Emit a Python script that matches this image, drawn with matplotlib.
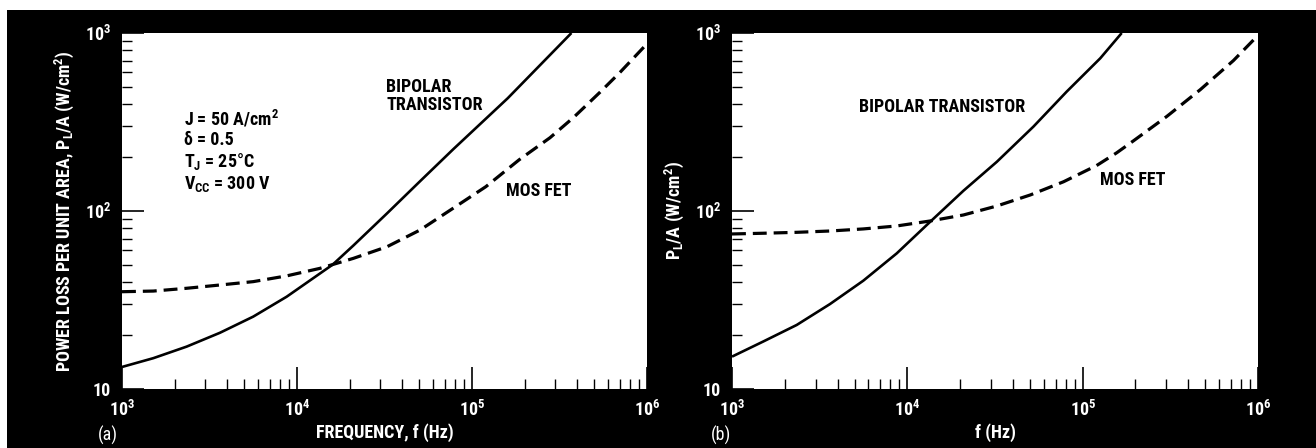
import matplotlib
matplotlib.use("Agg")
import matplotlib.pyplot as plt
from matplotlib import font_manager
from matplotlib.patches import Rectangle
from matplotlib.ticker import LogLocator, FixedLocator, FuncFormatter, NullFormatter

available = {f.name for f in font_manager.fontManager.ttflist}
main_font = 'DejaVu Sans'
for cand in ['Liberation Sans Narrow', 'Roboto Condensed', 'Open Sans Condensed', 'Arial Narrow']:
    if cand in available:
        main_font = cand
        break
plt.rcParams['font.family'] = [main_font, 'DejaVu Sans']
if main_font == 'DejaVu Sans':
    plt.rcParams['font.stretch'] = 'condensed'
plt.rcParams['font.weight'] = 'bold'
plt.rcParams['axes.labelweight'] = 'bold'
plt.rcParams['mathtext.fontset'] = 'custom'
plt.rcParams['mathtext.rm'] = main_font + ':bold'
plt.rcParams['mathtext.it'] = main_font + ':bold'
plt.rcParams['mathtext.default'] = 'regular'
plt.rcParams['lines.scale_dashes'] = False

# ---- data ----
freq_a_bipolar = [1e3, 1.51e3, 2.34e3, 3.63e3, 5.62e3, 8.73e3, 1.35e4, 1.6e4, 2.1e4, 3.27e4,
                  5.05e4, 7.8e4, 1.6e5, 3.7e5]
loss_a_bipolar = [13.3, 14.9, 17.3, 20.7, 25.5, 33, 44.5, 50, 64, 97,
                  147, 222, 430, 1000]

freq_a_mosfet = [1e3, 1.51e3, 2.34e3, 3.63e3, 5.62e3, 8.73e3, 1.35e4, 2.1e4, 3.27e4, 5.05e4,
                 7.8e4, 1.2e5, 1.86e5, 2.79e5, 3.8e5, 5.39e5, 7.0e5, 1e6]
loss_a_mosfet = [35.2, 35.5, 36.8, 38.4, 40.1, 43.2, 47.6, 54.2, 63, 78.2,
                 103.6, 137, 194, 258, 335, 465, 600, 870]

freq_b_bipolar = [1e3, 1.51e3, 2.34e3, 3.62e3, 5.61e3, 8.7e3, 1.35e4, 2.09e4, 3.24e4, 5.24e4,
                  8.1e4, 1.26e5, 1.67e5]
loss_b_bipolar = [15.2, 18.5, 22.9, 30, 40.6, 57.8, 87, 130, 189, 298,
                  468, 721, 1000]

freq_b_mosfet = [1e3, 1.51e3, 2.34e3, 3.62e3, 5.61e3, 8.7e3, 1.35e4, 2.09e4, 3.24e4, 5.02e4,
                 7.78e4, 1.2e5, 1.56e5, 1.95e5, 3.02e5, 4.68e5, 7.24e5, 1e6]
loss_b_mosfet = [74.3, 75, 75.9, 77.2, 79.3, 82.4, 87.9, 95, 106.7, 123,
                 146, 180, 212, 248, 340, 480, 700, 970]

x_ticks = [1e3, 1e4, 1e5, 1e6]
x_tick_labels = [r'$10^{3}$', r'$10^{4}$', r'$10^{5}$', r'$10^{6}$']
y_ticks = [10, 100, 1000]
y_tick_labels = ['10', r'$10^{2}$', r'$10^{3}$']

FS = 13
W, H = 1316, 448
fig = plt.figure(figsize=(W / 100, H / 100), dpi=100, facecolor='white')
bg = Rectangle((7 / W, 0), 1 - 7 / W, 1 - 10 / H, transform=fig.transFigure,
               facecolor='black', edgecolor='none', zorder=-10)
fig.add_artist(bg)

def px_axes(x0, x1, y0, y1):
    a = fig.add_axes([x0 / W, 1 - y1 / H, (x1 - x0) / W, (y1 - y0) / H])
    a.set_zorder(1)
    return a

ax_a = px_axes(122, 647, 33, 389)
ax_b = px_axes(732, 1258, 33, 389)

for ax in (ax_a, ax_b):
    ax.set_facecolor('white')
    ax.set_xscale('log')
    ax.set_yscale('log')
    ax.set_xlim(1e3, 1e6)
    ax.set_ylim(10, 1000)
    for s in ax.spines.values():
        s.set_visible(False)
    ax.xaxis.set_major_locator(FixedLocator(x_ticks))
    ax.xaxis.set_major_formatter(FuncFormatter(lambda v, p: x_tick_labels[p] if p < len(x_tick_labels) else ''))
    ax.yaxis.set_major_locator(FixedLocator(y_ticks))
    ax.yaxis.set_major_formatter(FuncFormatter(lambda v, p: y_tick_labels[p] if p < len(y_tick_labels) else ''))
    ax.xaxis.set_minor_locator(LogLocator(base=10, subs=range(2, 10)))
    ax.yaxis.set_minor_locator(LogLocator(base=10, subs=range(2, 10)))
    ax.xaxis.set_minor_formatter(NullFormatter())
    ax.yaxis.set_minor_formatter(NullFormatter())
    ax.tick_params(which='major', direction='in', length=16, width=1.2, color='black',
                   labelcolor='white', labelsize=FS, top=False, right=False)
    ax.tick_params(which='minor', direction='in', length=7, width=1.0, color='black',
                   top=False, right=False)
    ax.tick_params(axis='x', which='major', pad=8)
    ax.tick_params(axis='y', which='major', pad=8)

# panel (a)
ax_a.plot(freq_a_bipolar, loss_a_bipolar, color='black', lw=1.9, solid_capstyle='butt')
ax_a.plot(freq_a_mosfet, loss_a_mosfet, color='black', lw=2.3, dashes=(10, 5))
ax_a.set_xlabel('FREQUENCY, f (Hz)', color='white', fontsize=FS, labelpad=2, fontweight='bold')
ax_a.set_ylabel(r'POWER LOSS PER UNIT AREA, $P_L/A\ (W/cm^2)$', color='white',
                fontsize=FS, labelpad=6, fontweight='bold')
fig.text(98 / W, 1 - 435 / H, '(a)', color='white', fontsize=FS, va='center', ha='left',
         fontweight='normal')

txt_kw = dict(color='black', fontsize=FS, va='center', ha='left', zorder=5)
fig.text(184 / W, 1 - 119 / H, r'J = 50 A/cm$^2$', **txt_kw)
fig.text(184 / W, 1 - 140 / H, 'δ = 0.5', **txt_kw)
fig.text(184 / W, 1 - 162 / H, r'T$_J$ = 25°C', **txt_kw)
fig.text(184 / W, 1 - 184 / H, r'V$_{CC}$ = 300 V', **txt_kw)
fig.text(386 / W, 1 - 96 / H, 'BIPOLAR\nTRANSISTOR', linespacing=1.0, **txt_kw)
fig.text(506 / W, 1 - 191 / H, 'MOS FET', **txt_kw)

# panel (b)
ax_b.plot(freq_b_bipolar, loss_b_bipolar, color='black', lw=1.9, solid_capstyle='butt')
ax_b.plot(freq_b_mosfet, loss_b_mosfet, color='black', lw=2.3, dashes=(10, 5))
ax_b.set_xlabel('f (Hz)', color='white', fontsize=FS, labelpad=2, fontweight='bold')
ax_b.set_ylabel(r'$P_L/A\ (W/cm^2)$', color='white', fontsize=FS, labelpad=6, fontweight='bold')
fig.text(711 / W, 1 - 435 / H, '(b)', color='white', fontsize=FS, va='center', ha='left',
         fontweight='normal')
fig.text(859 / W, 1 - 107 / H, 'BIPOLAR TRANSISTOR', **txt_kw)
fig.text(1100 / W, 1 - 180 / H, 'MOS FET', **txt_kw)

fig.savefig('out.png', dpi=100, facecolor=fig.get_facecolor())
